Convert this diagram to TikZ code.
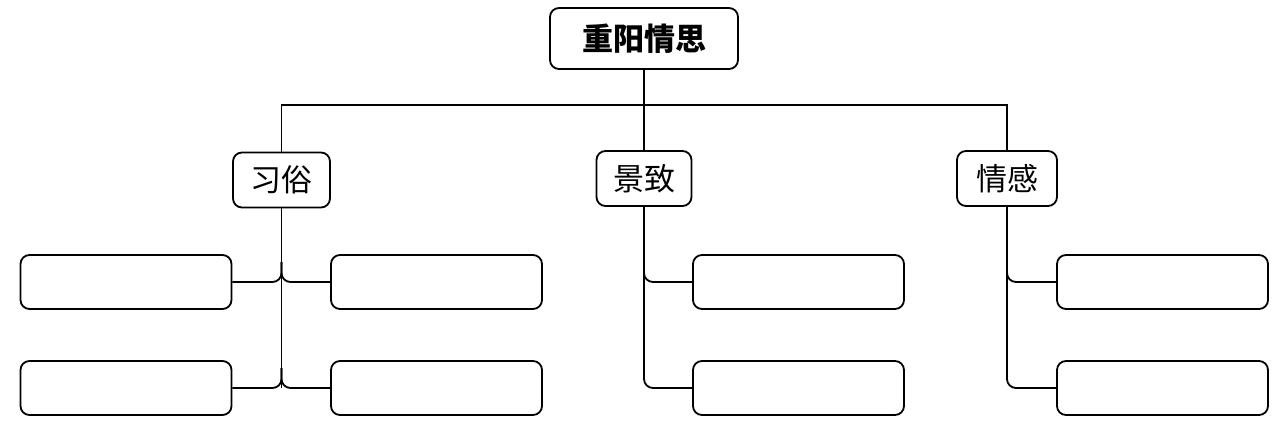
\documentclass[tikz,border=0pt]{standalone}
\usepackage{fontspec}
\newfontfamily\cjk{Noto Sans CJK SC}
\begin{document}
\begin{tikzpicture}[x=1pt,y=-1pt,
  box/.style={draw,line width=1.8pt,rounded corners=9pt,inner sep=0pt},
  topbox/.style={box,minimum width=188pt,minimum height=61pt,font=\cjk\bfseries\fontsize{31}{31}\selectfont},
  midbox/.style={box,minimum height=55pt,font=\cjk\fontsize{31}{31}\selectfont},
  leaf/.style={box,minimum width=211pt,minimum height=54pt},
  link/.style={line width=1.8pt,rounded corners=9pt}]
\useasboundingbox (0,0) rectangle (1279,426);
\node[topbox] (root) at (644,38.5) {重阳情思};
\node[midbox,minimum width=97pt] (xs) at (281.5,180) {习俗};
\node[midbox,minimum width=95pt] (jz) at (644,178.5) {景致};
\node[midbox,minimum width=100pt] (qg) at (1007,178.5) {情感};
\node[leaf] (xs1) at (126,282) {};
\node[leaf] (xs2) at (126,388) {};
\node[leaf] (xs3) at (436.5,282) {};
\node[leaf] (xs4) at (436.5,388) {};
\node[leaf] (jz1) at (798.5,282) {};
\node[leaf] (jz2) at (798.5,388) {};
\node[leaf] (qg1) at (1162.5,282) {};
\node[leaf] (qg2) at (1162.5,388) {};
\coordinate (bus) at (644,105);
\draw[line width=1.8pt] (root.south) -- (jz.north);
\draw[line width=1.8pt] (xs.north) |- (bus) -| (qg.north);
% xisu
\draw[line width=1.8pt] (xs.south) -- (xs.south |- xs2.east);
\draw[link] (xs1.east) -| ([yshift=20pt]xs.south |- xs1.east);
\draw[link] (xs3.west) -| ([yshift=20pt]xs.south |- xs3.west);
\draw[link] (xs2.east) -| ([yshift=20pt]xs.south |- xs2.east);
\draw[link] (xs4.west) -| ([yshift=20pt]xs.south |- xs4.west);
% jingzhi
\draw[link] (jz.south) |- (jz2.west);
\draw[link] ([yshift=20pt]jz.south |- jz1.west) |- (jz1.west);
% qinggan
\draw[link] (qg.south) |- (qg2.west);
\draw[link] ([yshift=20pt]qg.south |- qg1.west) |- (qg1.west);
\end{tikzpicture}
\end{document}
